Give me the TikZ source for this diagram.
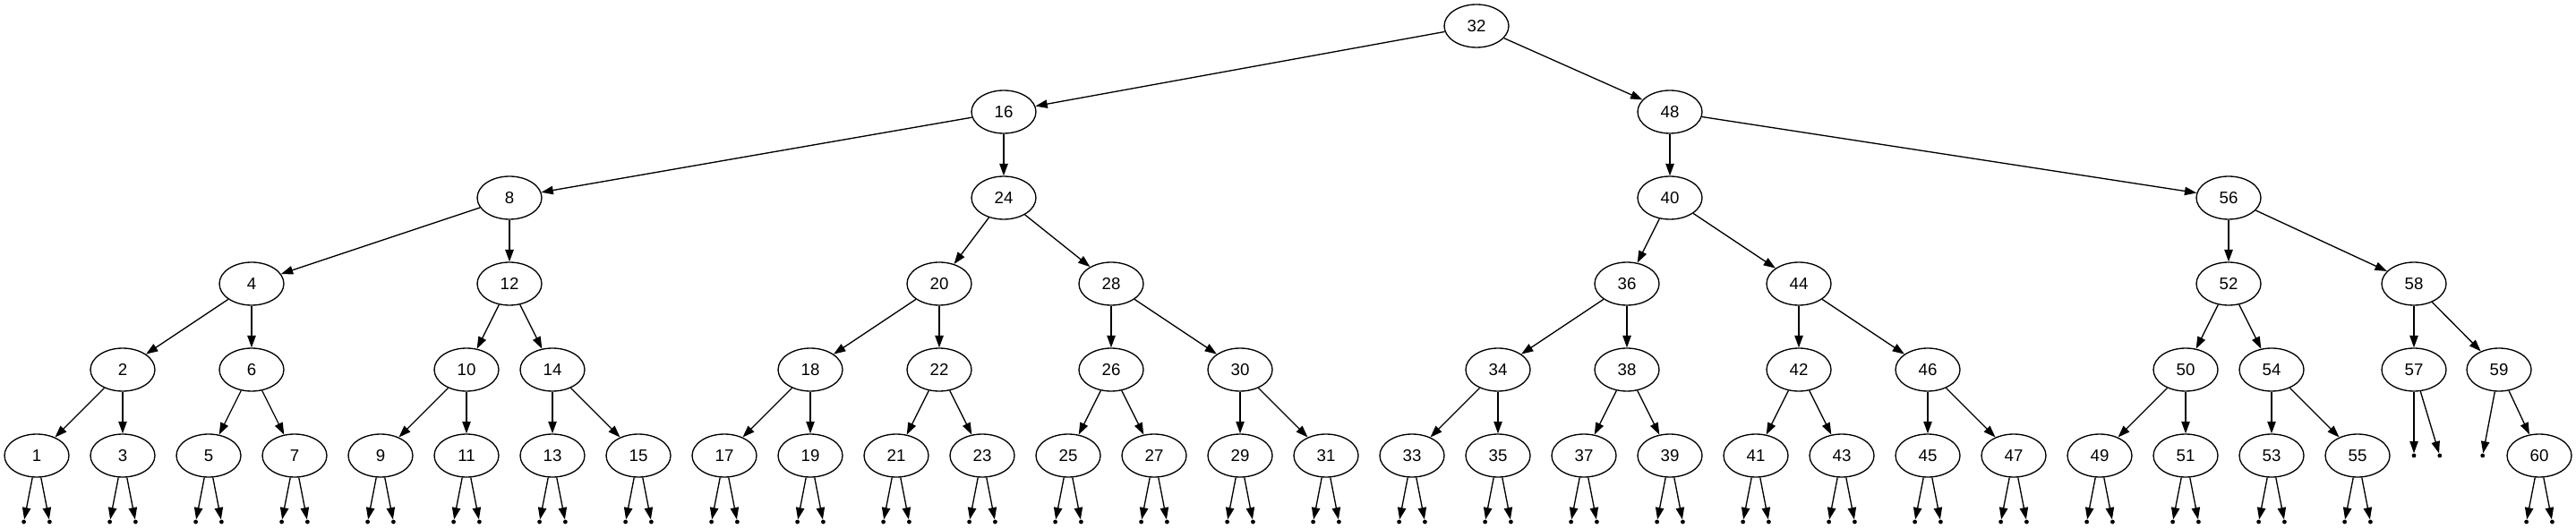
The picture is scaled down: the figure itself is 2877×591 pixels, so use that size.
\documentclass[tikz,border=0pt]{standalone}
\usepackage{fontspec}
\setmainfont{Liberation Sans}
\usetikzlibrary{arrows.meta,shapes.geometric}
\tikzset{
  tn/.style={draw=black, line width=1pt, ellipse, minimum width=54pt, minimum height=36pt, inner sep=0pt, font=\fontsize{14}{16}\selectfont},
  pt/.style={circle, fill=black, draw=none, minimum size=3.6pt, inner sep=0pt},
  arr/.style={draw=black, line width=1pt, -{Triangle[length=10pt,width=7pt]}}
}
\begin{document}
\begin{tikzpicture}[x=0.75pt,y=-0.75pt]
\fill[white] (0,0) rectangle (2877,591);
\useasboundingbox (0,0) rectangle (2877,591);
% row 0-4
\node[tn] (n32) at (1649,29) {32};
\node[tn] (n16) at (1121,125) {16};
\node[tn] (n48) at (1865,125) {48};
\node[tn] (n8) at (569,221) {8};
\node[tn] (n24) at (1121,221) {24};
\node[tn] (n40) at (1865,221) {40};
\node[tn] (n56) at (2489,221) {56};
\node[tn] (n4) at (281,317) {4};
\node[tn] (n12) at (569,317) {12};
\node[tn] (n20) at (1049,317) {20};
\node[tn] (n28) at (1241,317) {28};
\node[tn] (n36) at (1817,317) {36};
\node[tn] (n44) at (2009,317) {44};
\node[tn] (n52) at (2489,317) {52};
\node[tn] (n58) at (2696,317) {58};
\node[tn] (n2) at (137,413) {2};
\node[tn] (n6) at (281,413) {6};
\node[tn] (n10) at (521,413) {10};
\node[tn] (n14) at (617,413) {14};
\node[tn] (n18) at (905,413) {18};
\node[tn] (n22) at (1049,413) {22};
\node[tn] (n26) at (1241,413) {26};
\node[tn] (n30) at (1385,413) {30};
\node[tn] (n34) at (1673,413) {34};
\node[tn] (n38) at (1817,413) {38};
\node[tn] (n42) at (2009,413) {42};
\node[tn] (n46) at (2153,413) {46};
\node[tn] (n50) at (2441,413) {50};
\node[tn] (n54) at (2537,413) {54};
\node[tn] (n57) at (2696,413) {57};
\node[tn] (n59) at (2791,413) {59};
% row 5
\foreach \v in {1,3,...,55} {
  \pgfmathsetmacro\xx{41+48*(\v-1)}
  \node[tn] (n\v) at (\xx,509) {\v};
  \node[pt] (pl\v) at (\xx-14.4,583) {};
  \node[pt] (pr\v) at (\xx+14.4,583) {};
  \draw[arr] (n\v) -- (pl\v);
  \draw[arr] (n\v) -- (pr\v);
}
\node[tn] (n60) at (2836,509) {60};
\node[pt] (pl60) at (2821.6,583) {};
\node[pt] (pr60) at (2850.4,583) {};
\node[pt] (pl57) at (2696,509) {};
\node[pt] (pr57) at (2724.8,509) {};
\node[pt] (pl59) at (2772.7,509) {};
% edges
\foreach \a/\b in {32/16,32/48,16/8,16/24,48/40,48/56,8/4,8/12,24/20,24/28,40/36,40/44,56/52,56/58,
  4/2,4/6,12/10,12/14,20/18,20/22,28/26,28/30,36/34,36/38,44/42,44/46,52/50,52/54,58/57,58/59,
  2/1,2/3,6/5,6/7,10/9,10/11,14/13,14/15,18/17,18/19,22/21,22/23,26/25,26/27,30/29,30/31,
  34/33,34/35,38/37,38/39,42/41,42/43,46/45,46/47,50/49,50/51,54/53,54/55,59/60}
  \draw[arr] (n\a) -- (n\b);
\draw[arr] (n57) -- (pl57);
\draw[arr] (n57) -- (pr57);
\draw[arr] (n59) -- (pl59);
\draw[arr] (n60) -- (pl60);
\draw[arr] (n60) -- (pr60);
\end{tikzpicture}
\end{document}
